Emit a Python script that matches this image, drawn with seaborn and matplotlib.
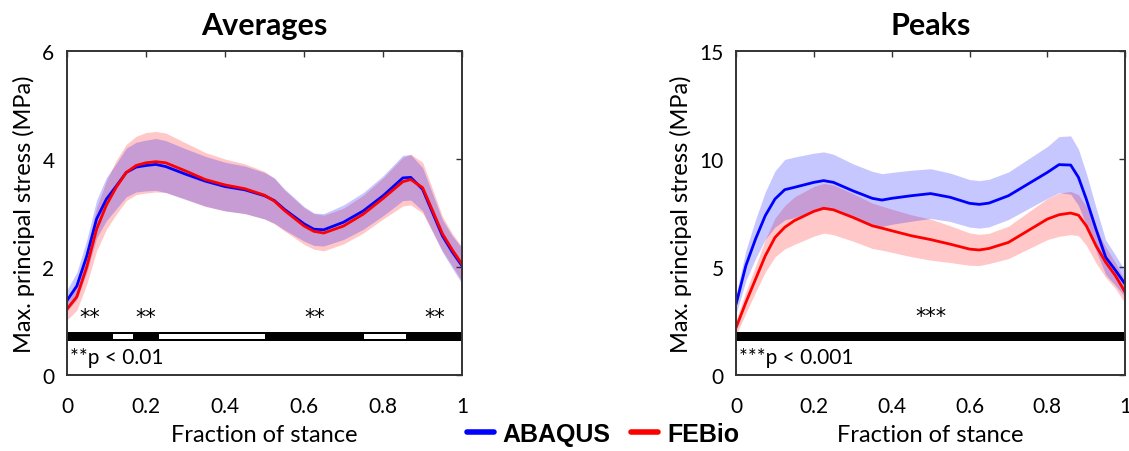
import numpy as np
import pandas as pd
import matplotlib
matplotlib.use("Agg")
import matplotlib.pyplot as plt
from matplotlib.lines import Line2D
import seaborn as sns

# averages panel
x_avg = [0, .025, .05, .075, .1, .125, .15, .175, .2, .225, .25, .3, .35, .4, .45, .5,
         .525, .55, .6, .625, .65, .7, .75, .8, .85, .87, .9, .925, .95, .975, 1.0]
abaqus_avg = [1.38, 1.65, 2.2, 2.89, 3.26, 3.5, 3.75, 3.85, 3.88, 3.9, 3.86, 3.72, 3.59, 3.49, 3.43, 3.32,
              3.23, 3.07, 2.8, 2.7, 2.69, 2.83, 3.04, 3.32, 3.65, 3.66, 3.44, 3.01, 2.58, 2.28, 2.02]
febio_avg = [1.22, 1.45, 2.0, 2.7, 3.15, 3.48, 3.75, 3.88, 3.93, 3.95, 3.93, 3.78, 3.62, 3.52, 3.45, 3.33,
             3.22, 3.05, 2.76, 2.66, 2.63, 2.76, 2.98, 3.27, 3.58, 3.62, 3.47, 3.05, 2.62, 2.32, 2.05]
abaqus_avg_sd = [0.2, 0.25, 0.3, 0.35, 0.4, 0.42, 0.45, 0.46, 0.47, 0.48, 0.48, 0.47, 0.46, 0.45, 0.44, 0.43,
                 0.42, 0.38, 0.32, 0.3, 0.3, 0.32, 0.34, 0.37, 0.42, 0.42, 0.4, 0.35, 0.3, 0.3, 0.33]
febio_avg_sd = [0.2, 0.25, 0.32, 0.4, 0.45, 0.5, 0.52, 0.54, 0.56, 0.56, 0.55, 0.52, 0.5, 0.48, 0.46, 0.44,
                0.42, 0.38, 0.34, 0.33, 0.33, 0.33, 0.35, 0.38, 0.45, 0.47, 0.47, 0.4, 0.32, 0.3, 0.32]
sig_avg_start = [0, 0.17, 0.503, 0.86]
sig_avg_end = [0.114, 0.23, 0.75, 1.0]

# peaks panel
x_pk = [0, .025, .05, .075, .1, .125, .15, .2, .225, .25, .3, .35, .375, .4, .45, .5,
        .55, .6, .625, .65, .7, .75, .8, .83, .86, .88, .9, .925, .95, .975, 1.0]
abaqus_pk = [3.29, 5.06, 6.3, 7.38, 8.15, 8.58, 8.69, 8.92, 9.0, 8.92, 8.53, 8.18, 8.1, 8.18, 8.3, 8.4,
             8.23, 7.95, 7.9, 7.96, 8.3, 8.84, 9.38, 9.74, 9.72, 9.15, 8.15, 6.76, 5.45, 4.85, 4.21]
febio_pk = [2.2, 3.36, 4.44, 5.52, 6.37, 6.84, 7.15, 7.58, 7.72, 7.65, 7.3, 6.91, 6.8, 6.68, 6.45, 6.27,
            6.06, 5.83, 5.79, 5.86, 6.14, 6.68, 7.22, 7.42, 7.5, 7.4, 6.91, 5.99, 5.22, 4.6, 3.83]
abaqus_pk_sd = [0.45, 0.7, 0.9, 1.1, 1.3, 1.4, 1.4, 1.35, 1.33, 1.3, 1.25, 1.25, 1.22, 1.2, 1.18, 1.15,
                1.12, 1.1, 1.1, 1.1, 1.1, 1.15, 1.2, 1.3, 1.35, 1.3, 1.2, 1.0, 0.8, 0.7, 0.6]
febio_pk_sd = [0.35, 0.5, 0.6, 0.75, 0.9, 1.0, 1.1, 1.15, 1.15, 1.15, 1.1, 1.05, 1.02, 1.0, 0.97, 0.95,
               0.85, 0.75, 0.72, 0.7, 0.75, 0.85, 0.95, 1.0, 1.0, 0.95, 0.9, 0.8, 0.7, 0.6, 0.5]
sig_pk_start = [0]
sig_pk_end = [1.0]

sns.set_style("white")
plt.rcParams["font.family"] = ["Lato", "DejaVu Sans"]
plt.rcParams["text.color"] = "black"
plt.rcParams["axes.labelcolor"] = "black"

BLUE = "#0000ff"
RED = "#ff0000"

fig = plt.figure(figsize=(11.29, 4.52), dpi=100)
ax1 = fig.add_axes([0.0593, 0.168, 0.350, 0.717])
ax2 = fig.add_axes([0.652, 0.168, 0.3446, 0.717])


def draw_panel(ax, x, ab, fe, ab_sd, fe_sd, ymax, yticks, sig_s, sig_e, bar_lo, bar_hi,
               stars, star_y, note, note_y, title):
    x = np.array(x)
    ab, fe = np.array(ab), np.array(fe)
    ab_sd, fe_sd = np.array(ab_sd), np.array(fe_sd)
    ax.fill_between(x, fe - fe_sd, fe + fe_sd, color=RED, alpha=0.22, lw=0)
    ax.fill_between(x, ab - ab_sd, ab + ab_sd, color=BLUE, alpha=0.22, lw=0)
    df = pd.DataFrame({"x": x, "ABAQUS": ab, "FEBio": fe})
    sns.lineplot(data=df, x="x", y="ABAQUS", ax=ax, color=BLUE, lw=2)
    sns.lineplot(data=df, x="x", y="FEBio", ax=ax, color=RED, lw=2)

    # significance bar: black where significant, white gaps elsewhere
    ax.fill_between([0, 1], bar_lo, bar_hi, color="black", lw=0)
    inset = (bar_hi - bar_lo) * 0.18
    for a, b in zip(sig_e[:-1], sig_s[1:]):
        ax.fill_between([a + 0.003, b - 0.003], bar_lo + inset, bar_hi - inset, color="white", lw=0)
    for a, b in zip(sig_s, sig_e):
        ax.text((a + b) / 2, star_y, stars, ha="center", va="center", fontsize=15,
                family="DejaVu Sans")
    ax.text(0.008, note_y, note, ha="left", va="center", fontsize=15)

    ax.set_xlim(0, 1)
    ax.set_ylim(0, ymax)
    ax.set_xticks([0, 0.2, 0.4, 0.6, 0.8, 1])
    ax.set_xticklabels(["0", "0.2", "0.4", "0.6", "0.8", "1"])
    ax.set_yticks(yticks)
    ax.set_yticklabels([str(t) for t in yticks])
    ax.tick_params(direction="in", length=4, width=1, top=True, right=True, labelsize=15,
                   colors="#333333", labelcolor="black")
    ax.tick_params(axis="x", pad=15)
    ax.tick_params(axis="y", pad=9)
    for s in ax.spines.values():
        s.set_color("#333333")
        s.set_linewidth(1.4)
    ax.set_xlabel("Fraction of stance", fontsize=17, labelpad=6)
    ax.set_ylabel("Max. principal stress (MPa)", fontsize=17, labelpad=5)
    ax.set_title(title, fontsize=22, fontweight="bold", pad=12, color="black")


draw_panel(ax1, x_avg, abaqus_avg, febio_avg, abaqus_avg_sd, febio_avg_sd, 6, [0, 2, 4, 6],
           sig_avg_start, sig_avg_end, 0.63, 0.80, "**", 1.07, "**p < 0.01", 0.33, "Averages")
draw_panel(ax2, x_pk, abaqus_pk, febio_pk, abaqus_pk_sd, febio_pk_sd, 15, [0, 5, 10, 15],
           sig_pk_start, sig_pk_end, 1.57, 1.99, "***", 2.72, "***p < 0.001", 0.83, "Peaks")

handles = [Line2D([], [], color=BLUE, lw=4), Line2D([], [], color=RED, lw=4)]
fig.legend(handles, ["ABAQUS", "FEBio"], loc="center", bbox_to_anchor=(0.534, 0.038), ncol=2,
           frameon=False, handlelength=1.1, handletextpad=0.35, columnspacing=0.8,
           prop={"family": "Liberation Sans", "weight": "bold", "size": 18})

fig.savefig("out.png", dpi=100)
